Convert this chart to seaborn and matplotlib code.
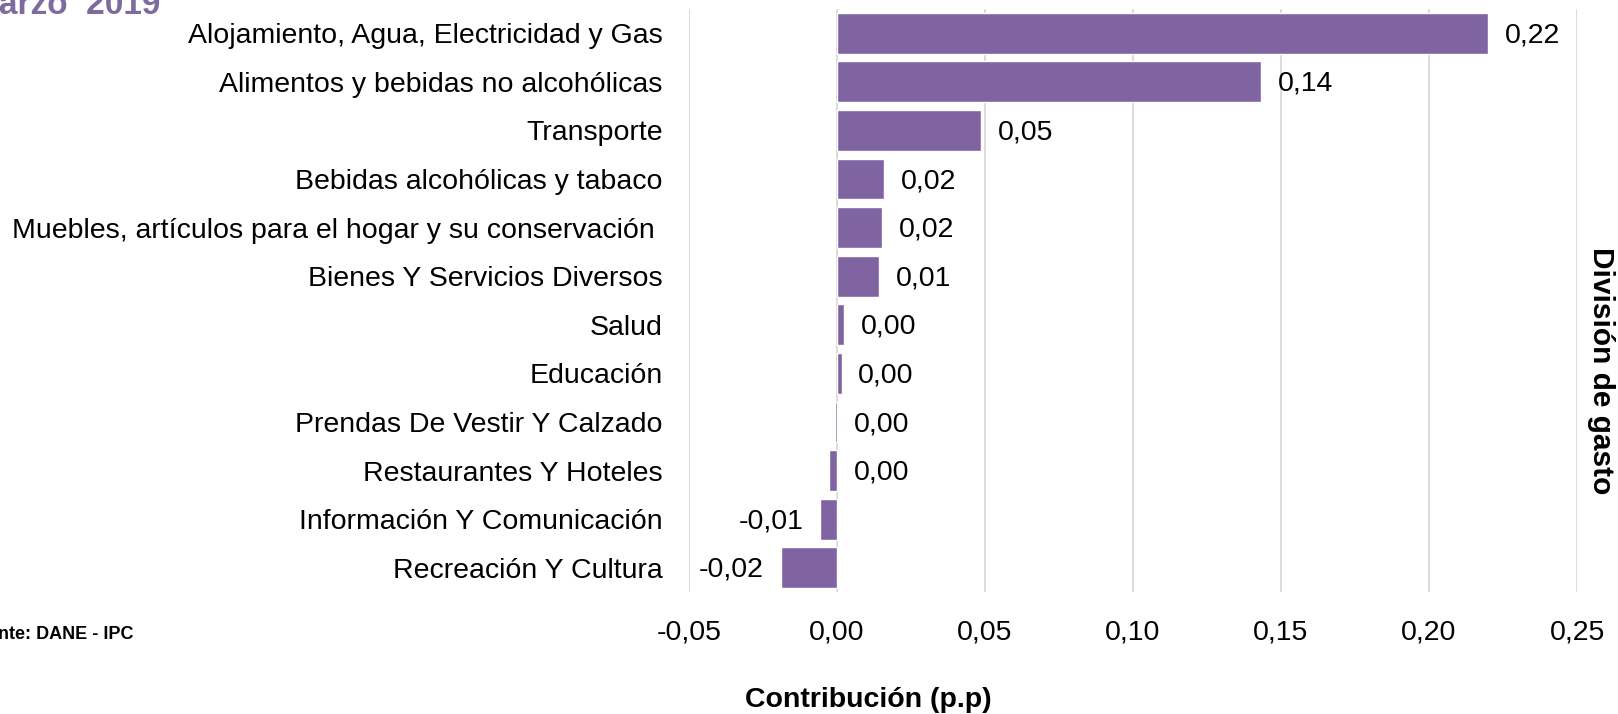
import numpy as np
import pandas as pd
import seaborn as sns
from matplotlib import pyplot as plt

categorias = [
    "Alojamiento, Agua, Electricidad y Gas",
    "Alimentos y bebidas no alcohólicas",
    "Transporte",
    "Bebidas alcohólicas y tabaco",
    "Muebles, artículos para el hogar y su conservación ",
    "Bienes Y Servicios Diversos",
    "Salud",
    "Educación",
    "Prendas De Vestir Y Calzado",
    "Restaurantes Y Hoteles",
    "Información Y Comunicación",
    "Recreación Y Cultura",
]
contribucion = [0.2199, 0.1432, 0.0488, 0.0160, 0.0153, 0.0142,
                0.0025, 0.0016, -0.0008, -0.0026, -0.0058, -0.0190]
x_ticks = [-0.05, 0.0, 0.05, 0.10, 0.15, 0.20, 0.25]

purple = "#8064A2"
fs = 20.5

sns.set_theme(style="white")
plt.rcParams['font.family'] = ['Liberation Sans', 'DejaVu Sans']
plt.rcParams['text.color'] = 'black'
plt.rcParams['axes.labelcolor'] = 'black'

df = pd.DataFrame({"division": categorias, "valor": contribucion})

fig = plt.figure(figsize=(16.18, 7.14), dpi=100)
ax = fig.add_axes([0.4258, 0.1709, 0.5489, 0.8165])

sns.barplot(data=df, x="valor", y="division", orient="h", color=purple,
            saturation=1, width=0.84, ax=ax)

ax.set_xlim(-0.05, 0.25)
ax.set_xticks(x_ticks)
ax.set_xticklabels([f"{t:.2f}".replace(".", ",") for t in x_ticks])
ax.grid(True, axis="x", color="#D9D9D9", linewidth=1.3)
ax.set_axisbelow(True)
for s in ax.spines.values():
    s.set_visible(False)
ax.tick_params(axis="y", length=0, pad=19, labelsize=fs, labelcolor="black")
ax.tick_params(axis="x", length=0, pad=20, labelsize=fs, labelcolor="black")

# data labels
for i, v in enumerate(contribucion):
    r = round(v, 2)
    txt = f"{abs(r) if r == 0 else r:.2f}".replace(".", ",")
    if r >= 0:
        ax.annotate(txt, (max(v, 0), i), xytext=(12, -1.5), textcoords="offset points",
                    ha="left", va="center", fontsize=fs, color="black")
    else:
        ax.annotate(txt, (v, i), xytext=(-12, -1.5), textcoords="offset points",
                    ha="right", va="center", fontsize=fs, color="black")

ax.set_xlabel("Contribución (p.p)", fontsize=fs, fontweight="bold")
ax.xaxis.set_label_coords((868 - 689) / 888, -(700 - 592) / 583)
ax.xaxis.label.set_va("center")
ax.set_ylabel("División de gasto", fontsize=21.5, fontweight="bold", rotation=270)
ax.yaxis.set_label_position("right")
ax.yaxis.set_label_coords(1.027, 0.379)
ax.yaxis.label.set_va("center")

fig.text(160 / 1618, 1 - 14 / 714, "Marzo  2019", ha="right", va="baseline",
         fontsize=24, fontweight="bold", color="#7F6A9F")
fig.text(134 / 1618, 1 - 639 / 714, "Fuente: DANE - IPC", ha="right", va="baseline",
         fontsize=13, fontweight="bold")

fig.savefig("out.png", dpi=100)
